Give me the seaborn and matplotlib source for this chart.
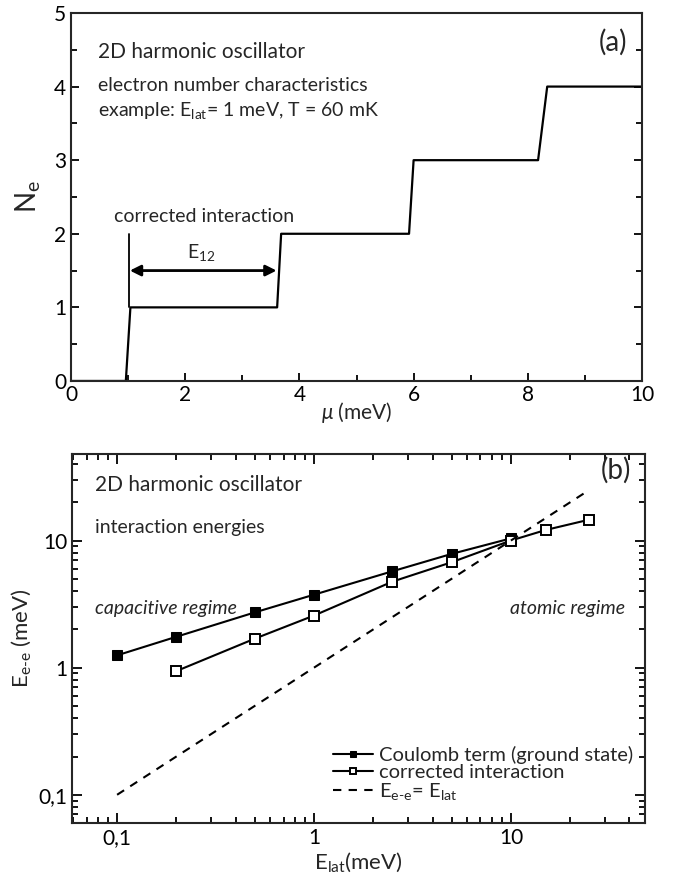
import matplotlib
matplotlib.use("Agg")
import matplotlib.pyplot as plt
import seaborn as sns
import pandas as pd
import numpy as np
from matplotlib.ticker import MultipleLocator, FixedLocator, LogLocator, NullFormatter, FixedFormatter

# ---------------- data ----------------
# panel (a): electron number vs chemical potential
mu_vals = [0.0, 0.96, 1.04, 3.61, 3.68, 5.92, 6.0, 8.18, 8.34, 10.0]
ne_vals = [0, 0, 1, 1, 2, 2, 3, 3, 4, 4]

# panel (b): interaction energies
elat_coul = [0.1, 0.2, 0.5, 1.0, 2.5, 5.0, 10.0]
eee_coul = [1.25, 1.75, 2.72, 3.75, 5.73, 7.85, 10.4]
elat_corr = [0.2, 0.5, 1.0, 2.5, 5.0, 10.0, 15.0, 25.0]
eee_corr = [0.94, 1.69, 2.57, 4.75, 6.75, 10.0, 12.1, 14.6]
elat_ident = [0.1, 25.0]
eee_ident = [0.1, 25.0]

log_tick_vals = [0.1, 1, 10]
log_tick_labels = ["0,1", "1", "10"]

# ---------------- style ----------------
sns.set_theme(style="ticks")
FONT = "Lato"
plt.rcParams["font.family"] = [FONT, "DejaVu Sans"]
plt.rcParams["mathtext.fontset"] = "custom"
plt.rcParams["mathtext.rm"] = FONT
plt.rcParams["mathtext.it"] = FONT + ":italic"
plt.rcParams["mathtext.bf"] = FONT + ":bold"
plt.rcParams["axes.linewidth"] = 1.5
plt.rcParams["xtick.direction"] = "in"
plt.rcParams["ytick.direction"] = "in"

FS = 14
fig = plt.figure(figsize=(6.79, 8.77), dpi=100)
ax1 = fig.add_axes([0.1046, 0.5656, 0.8409, 0.4196])
ax2 = fig.add_axes([0.1060, 0.0616, 0.8440, 0.4208])

# ---------------- panel (a) ----------------
df_a = pd.DataFrame({"mu": mu_vals, "Ne": ne_vals})
sns.lineplot(data=df_a, x="mu", y="Ne", sort=False, estimator=None,
             color="black", lw=1.6, ax=ax1)
ax1.set_xlim(0, 10)
ax1.set_ylim(0, 5)
ax1.xaxis.set_major_locator(MultipleLocator(2))
ax1.xaxis.set_minor_locator(MultipleLocator(1))
ax1.yaxis.set_major_locator(MultipleLocator(1))
ax1.yaxis.set_minor_locator(MultipleLocator(0.5))
ax1.tick_params(axis="both", which="both", direction="in", labelsize=15,
                width=1.3, colors="black")
ax1.tick_params(axis="y", which="both", right=True)
ax1.tick_params(which="major", length=6)
ax1.tick_params(which="minor", length=4)
ax1.tick_params(axis="x", pad=3)
ax1.set_xlabel(r"$\mathit{\mu}$ (meV)", fontsize=15, labelpad=-4)
ax1.set_ylabel(r"N$_\mathrm{e}$", fontsize=20, labelpad=8)

ax1.text(0.47, 4.47, "2D harmonic oscillator", fontsize=FS + 1, va="center")
ax1.text(0.47, 4.02, "electron number characteristics", fontsize=FS, va="center")
ax1.text(0.47, 3.68, r"example: E$_\mathrm{lat}$= 1 meV, T = 60 mK", fontsize=FS, va="center")
ax1.text(9.75, 4.6, "(a)", fontsize=20, ha="right", va="center")
ax1.text(2.33, 2.24, "corrected interaction", fontsize=FS, ha="center", va="center")
ax1.text(2.28, 1.75, r"E$_\mathrm{12}$", fontsize=FS, ha="center", va="center")
ax1.plot([1.01, 1.01], [1.0, 2.0], color="black", lw=1.3)
ax1.annotate("", xy=(3.6, 1.5), xytext=(1.03, 1.5),
             arrowprops=dict(arrowstyle="<|-|>", color="black", lw=2,
                             mutation_scale=16, shrinkA=0, shrinkB=0))

# ---------------- panel (b) ----------------
df_c = pd.DataFrame({"x": elat_coul, "y": eee_coul})
df_o = pd.DataFrame({"x": elat_corr, "y": eee_corr})
df_i = pd.DataFrame({"x": elat_ident, "y": eee_ident})
sns.lineplot(data=df_c, x="x", y="y", color="black", lw=1.5, marker="s",
             markersize=7, markerfacecolor="black", markeredgecolor="black",
             ax=ax2, label="Coulomb term (ground state)")
sns.lineplot(data=df_o, x="x", y="y", color="black", lw=1.5, marker="s",
             markersize=7, markerfacecolor="white", markeredgecolor="black",
             markeredgewidth=1.4, ax=ax2, label="corrected interaction")
sns.lineplot(data=df_i, x="x", y="y", color="black", lw=1.5, ls=(0, (4, 3.5)),
             ax=ax2, label=r"E$_\mathrm{e\text{-}e}$= E$_\mathrm{lat}$")
ax2.set_xscale("log")
ax2.set_yscale("log")
ax2.set_xlim(0.059, 48)
ax2.set_ylim(0.06, 48)
for axis in (ax2.xaxis, ax2.yaxis):
    axis.set_major_locator(FixedLocator(log_tick_vals))
    axis.set_major_formatter(FixedFormatter(log_tick_labels))
    axis.set_minor_locator(LogLocator(base=10, subs=np.arange(2, 10), numticks=20))
    axis.set_minor_formatter(NullFormatter())
ax2.tick_params(axis="both", which="both", direction="in", labelsize=15,
                width=1.3, top=True, right=True, colors="black")
ax2.tick_params(which="major", length=7)
ax2.tick_params(which="minor", length=4)
ax2.set_xlabel(r"E$_\mathrm{lat}$(meV)", fontsize=16, labelpad=2)
ax2.set_ylabel(r"E$_\mathrm{e\text{-}e}$ (meV)", fontsize=16, labelpad=4)

ax2.text(0.04, 0.915, "2D harmonic oscillator", transform=ax2.transAxes,
         fontsize=FS + 1, va="center")
ax2.text(0.04, 0.80, "interaction energies", transform=ax2.transAxes,
         fontsize=FS, va="center")
ax2.text(0.04, 0.58, "capacitive regime", transform=ax2.transAxes,
         fontsize=FS, va="center", style="italic")
ax2.text(0.965, 0.58, "atomic regime", transform=ax2.transAxes,
         fontsize=FS, va="center", ha="right", style="italic")
ax2.text(0.975, 0.955, "(b)", transform=ax2.transAxes, fontsize=20,
         va="center", ha="right")

leg = ax2.legend(loc="lower right", frameon=False, fontsize=14.5,
                 handlelength=2.0, handletextpad=0.3, labelspacing=0.0,
                 borderaxespad=0.2, bbox_to_anchor=(1.0, 0.025))
for h in leg.legend_handles:
    h.set_markersize(5)

fig.savefig("out.png", dpi=100)
